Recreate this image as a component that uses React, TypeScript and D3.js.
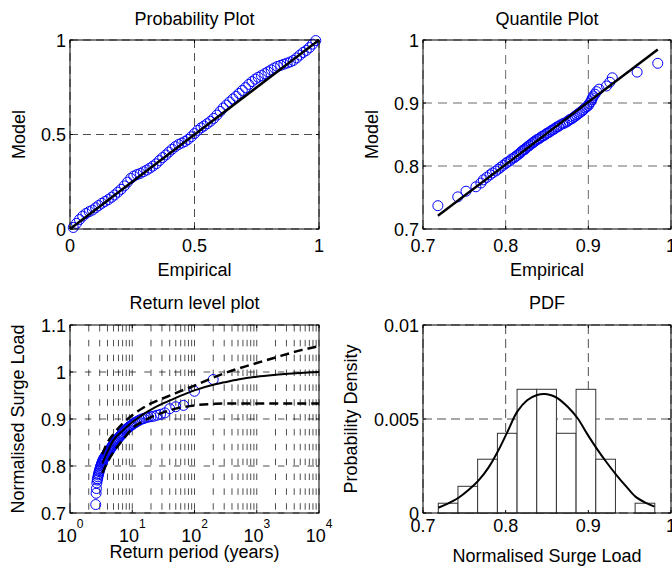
import React from 'react';
import * as d3 from 'd3';

// probability plot: empirical vs model non-exceedance probability
const probEmpirical = [
  0.013, 0.026, 0.038, 0.051, 0.064, 0.077, 0.090, 0.103, 0.115, 0.128,
  0.141, 0.154, 0.167, 0.179, 0.192, 0.205, 0.218, 0.231, 0.244, 0.256,
  0.269, 0.282, 0.295, 0.308, 0.321, 0.333, 0.346, 0.359, 0.372, 0.385,
  0.397, 0.410, 0.423, 0.436, 0.449, 0.462, 0.474, 0.487, 0.500, 0.513,
  0.526, 0.538, 0.551, 0.564, 0.577, 0.590, 0.603, 0.615, 0.628, 0.641,
  0.654, 0.667, 0.679, 0.692, 0.705, 0.718, 0.731, 0.744, 0.756, 0.769,
  0.782, 0.795, 0.808, 0.821, 0.833, 0.846, 0.859, 0.872, 0.885, 0.897,
  0.910, 0.923, 0.936, 0.949, 0.962, 0.974, 0.987,
];
const probModel = [
  0.008, 0.030, 0.050, 0.068, 0.082, 0.092, 0.100, 0.112, 0.124, 0.136,
  0.146, 0.156, 0.168, 0.180, 0.195, 0.210, 0.228, 0.248, 0.268, 0.280,
  0.288, 0.294, 0.303, 0.312, 0.322, 0.333, 0.345, 0.362, 0.378, 0.392,
  0.407, 0.422, 0.436, 0.447, 0.455, 0.463, 0.474, 0.488, 0.505, 0.522,
  0.535, 0.545, 0.557, 0.570, 0.585, 0.603, 0.622, 0.640, 0.656, 0.672,
  0.688, 0.702, 0.717, 0.733, 0.748, 0.765, 0.780, 0.793, 0.803, 0.812,
  0.822, 0.832, 0.842, 0.852, 0.860, 0.866, 0.872, 0.878, 0.884, 0.892,
  0.905, 0.920, 0.934, 0.945, 0.960, 0.978, 0.997,
];
const probLine = [0, 1];

// sorted normalised surge loads (empirical) and fitted model quantiles
const surgeLoad = [
  0.718, 0.742, 0.752, 0.764, 0.770, 0.773, 0.777, 0.781, 0.784, 0.788,
  0.791, 0.794, 0.797, 0.800, 0.802, 0.805, 0.807, 0.810, 0.812, 0.814,
  0.816, 0.818, 0.819, 0.821, 0.823, 0.824, 0.826, 0.828, 0.829, 0.831,
  0.833, 0.834, 0.836, 0.838, 0.840, 0.842, 0.844, 0.846, 0.848, 0.850,
  0.852, 0.854, 0.856, 0.858, 0.860, 0.862, 0.864, 0.866, 0.869, 0.871,
  0.874, 0.876, 0.878, 0.880, 0.882, 0.884, 0.886, 0.888, 0.890, 0.892,
  0.894, 0.896, 0.898, 0.900, 0.901, 0.903, 0.904, 0.905, 0.906, 0.908,
  0.910, 0.913, 0.922, 0.926, 0.929, 0.959, 0.984,
];
const quantileModel = [
  0.737, 0.751, 0.760, 0.767, 0.773, 0.778, 0.782, 0.786, 0.789, 0.792,
  0.795, 0.798, 0.801, 0.804, 0.806, 0.808, 0.811, 0.813, 0.815, 0.817,
  0.819, 0.821, 0.823, 0.825, 0.826, 0.828, 0.830, 0.832, 0.833, 0.835,
  0.837, 0.838, 0.840, 0.842, 0.843, 0.845, 0.847, 0.848, 0.850, 0.852,
  0.853, 0.855, 0.857, 0.858, 0.860, 0.862, 0.863, 0.865, 0.867, 0.868,
  0.870, 0.872, 0.874, 0.875, 0.877, 0.879, 0.881, 0.883, 0.885, 0.887,
  0.889, 0.892, 0.894, 0.896, 0.899, 0.902, 0.905, 0.908, 0.911, 0.914,
  0.918, 0.922, 0.927, 0.933, 0.940, 0.949, 0.963,
];
const qqLineEmp = [0.718, 0.984];
const qqLineModel = [0.721, 0.985];

// return level plot
const returnPeriod = [
  2.59, 2.63, 2.66, 2.70, 2.74, 2.77, 2.81, 2.85, 2.89, 2.94,
  2.98, 3.03, 3.07, 3.12, 3.17, 3.22, 3.27, 3.33, 3.38, 3.44,
  3.50, 3.57, 3.63, 3.70, 3.77, 3.84, 3.92, 3.99, 4.08, 4.16,
  4.25, 4.34, 4.44, 4.54, 4.64, 4.75, 4.87, 4.99, 5.12, 5.26,
  5.40, 5.55, 5.71, 5.87, 6.05, 6.24, 6.44, 6.66, 6.89, 7.13,
  7.40, 7.68, 7.99, 8.32, 8.68, 9.08, 9.51, 9.99, 10.5, 11.1,
  11.7, 12.5, 13.3, 14.3, 15.4, 16.6, 18.2, 20.0, 22.2, 25.0,
  28.5, 33.3, 39.9, 49.9, 66.6, 99.9, 199.7,
];
const rlPeriod = [3.3, 4, 5, 7, 10, 15, 20, 30, 50, 70, 100, 200, 300, 500, 1000, 2000, 5000, 10000];
const rlLevel = [0.805, 0.830, 0.855, 0.875, 0.893, 0.910, 0.920, 0.932, 0.945, 0.953, 0.961, 0.973, 0.978, 0.984, 0.990, 0.994, 0.998, 1.000];
const rlUpper = [0.825, 0.850, 0.868, 0.890, 0.908, 0.924, 0.933, 0.943, 0.955, 0.963, 0.971, 0.988, 0.997, 1.007, 1.019, 1.031, 1.046, 1.055];
const rlLower = [0.785, 0.808, 0.830, 0.855, 0.880, 0.895, 0.904, 0.913, 0.922, 0.926, 0.929, 0.932, 0.933, 0.933, 0.933, 0.933, 0.933, 0.933];

// PDF panel
const histEdges = [0.7185, 0.7423, 0.7661, 0.7900, 0.8138, 0.8376, 0.8614, 0.8852, 0.9090, 0.9328, 0.9566, 0.9804];
const histDensity = [0.00052, 0.00142, 0.00286, 0.00424, 0.00658, 0.00658, 0.00424, 0.00658, 0.00286, 0, 0.00052];
const pdfX = [0.7185, 0.730, 0.743, 0.755, 0.767, 0.779, 0.790, 0.802, 0.814, 0.826, 0.838, 0.848, 0.856, 0.863, 0.875, 0.887, 0.898, 0.910, 0.922, 0.934, 0.946, 0.957, 0.969, 0.980];
const pdfY = [0.00028, 0.00050, 0.00081, 0.00122, 0.00172, 0.00240, 0.00323, 0.00430, 0.00539, 0.00600, 0.00628, 0.00633, 0.00625, 0.00610, 0.00565, 0.00504, 0.00425, 0.00344, 0.00270, 0.00202, 0.00140, 0.00087, 0.00055, 0.00034];

// ticks
const probTicks = [0, 0.5, 1];
const loadTicks = [0.7, 0.8, 0.9, 1];
const levelTicks = [0.7, 0.8, 0.9, 1, 1.1];
const periodTicks = [1, 10, 100, 1000, 10000];
const densityTicks = [0, 0.005, 0.01];

const font = "'Liberation Sans', Arial, Helvetica, sans-serif";
const blue = '#0000ff';

function Axes(props: any) {
  const {x, y, xTicks, yTicks, xGrid, yGrid, dash, gridColor, xTickLabel, xTickY,
    title, titleY, xLabel, xLabelY, yLabel, yLabelX, children} = props;
  const [left, right] = x.range();
  const [bottom, top] = y.range();
  const tl = 3;
  return (
    <g>
      <rect x={left} y={top} width={right - left} height={bottom - top} fill="#fff" />
      {xGrid.map((v: number, i: number) => (
        <line key={'gx' + i} x1={x(v)} x2={x(v)} y1={top} y2={bottom}
          stroke={gridColor} strokeWidth={0.8} strokeDasharray={dash} />
      ))}
      {yGrid.map((v: number, i: number) => (
        <line key={'gy' + i} x1={left} x2={right} y1={y(v)} y2={y(v)}
          stroke={gridColor} strokeWidth={0.8} strokeDasharray={dash} />
      ))}
      {children}
      <rect x={left} y={top} width={right - left} height={bottom - top} fill="none" stroke="#000" strokeWidth={1} />
      {xTicks.map((v: number, i: number) => (
        <g key={'tx' + i}>
          <line x1={x(v)} x2={x(v)} y1={bottom} y2={bottom - tl} stroke="#000" />
          <line x1={x(v)} x2={x(v)} y1={top} y2={top + tl} stroke="#000" />
          <text x={x(v)} y={bottom + xTickY} textAnchor="middle">{xTickLabel(v)}</text>
        </g>
      ))}
      {yTicks.map((v: number, i: number) => (
        <g key={'ty' + i}>
          <line x1={left} x2={left + tl} y1={y(v)} y2={y(v)} stroke="#000" />
          <line x1={right} x2={right - tl} y1={y(v)} y2={y(v)} stroke="#000" />
          <text x={left - 4} y={y(v) + 6.5} textAnchor="end">{String(v)}</text>
        </g>
      ))}
      <text x={(left + right) / 2} y={titleY} textAnchor="middle">{title}</text>
      <text x={(left + right) / 2} y={xLabelY} textAnchor="middle">{xLabel}</text>
      <text transform={`translate(${yLabelX},${(top + bottom) / 2}) rotate(-90)`} textAnchor="middle">{yLabel}</text>
    </g>
  );
}

function Circles({xs, ys, x, y}: any) {
  return (
    <g>
      {xs.map((v: number, i: number) => (
        <circle key={i} cx={x(v)} cy={y(ys[i])} r={5} fill="none" stroke={blue} strokeWidth={1} />
      ))}
    </g>
  );
}

export default function App() {
  // Probability plot
  const x1 = d3.scaleLinear().domain([0, 1]).range([70, 319]);
  const y1 = d3.scaleLinear().domain([0, 1]).range([229, 40]);
  const diag = d3.line<number>().x(v => x1(v)).y(v => y1(v))(probLine) || '';

  // Quantile plot
  const x2 = d3.scaleLinear().domain([0.7, 1]).range([423, 671]);
  const y2 = d3.scaleLinear().domain([0.7, 1]).range([229, 40]);
  const qqLine = d3.line<number>().x(v => x2(v)).y((_, i) => y2(qqLineModel[i]))(qqLineEmp) || '';

  // Return level plot
  const x3 = d3.scaleLog().domain([1, 10000]).range([70, 319]);
  const y3 = d3.scaleLinear().domain([0.7, 1.1]).range([513, 325]);
  const rlLine = (vals: number[]) =>
    d3.line<number>().x((_, i) => x3(rlPeriod[i])).y(v => y3(v)).curve(d3.curveMonotoneX)(vals) || '';
  const logGrid = x3.ticks();

  // PDF
  const x4 = d3.scaleLinear().domain([0.7, 1]).range([423, 671]);
  const y4 = d3.scaleLinear().domain([0, 0.01]).range([513, 325]);
  const pdfPath = d3.line<number>().x(v => x4(v)).y((_, i) => y4(pdfY[i])).curve(d3.curveCatmullRom)(pdfX) || '';

  return (
    <div style={{position: 'fixed', left: 0, top: 0}}>
      <svg width={672} height={571} style={{display: 'block', background: '#fff'}}
        fontFamily={font} fontSize={18} fill="#000">
        <rect width={672} height={571} fill="#fff" />

        <Axes x={x1} y={y1} xTicks={probTicks} yTicks={probTicks} xGrid={probTicks} yGrid={probTicks}
          dash="8,5" gridColor="#222" xTickLabel={(v: number) => String(v)} xTickY={23}
          title="Probability Plot" titleY={25} xLabel="Empirical" xLabelY={276} yLabel="Model" yLabelX={25}>
          <Circles xs={probEmpirical} ys={probModel} x={x1} y={y1} />
          <path d={diag} fill="none" stroke="#000" strokeWidth={2.5} />
        </Axes>

        <Axes x={x2} y={y2} xTicks={loadTicks} yTicks={loadTicks} xGrid={loadTicks} yGrid={loadTicks}
          dash="9,6" gridColor="#444" xTickLabel={(v: number) => String(v)} xTickY={23}
          title="Quantile Plot" titleY={25} xLabel="Empirical" xLabelY={276} yLabel="Model" yLabelX={378}>
          <Circles xs={surgeLoad} ys={quantileModel} x={x2} y={y2} />
          <path d={qqLine} fill="none" stroke="#000" strokeWidth={2.5} />
        </Axes>

        <Axes x={x3} y={y3} xTicks={periodTicks} yTicks={levelTicks} xGrid={logGrid} yGrid={levelTicks}
          dash="6.5,8.35" gridColor="#222"
          xTickLabel={(v: number) => (
            <>10<tspan dy={-13.4} fontSize={12}>{Math.round(Math.log10(v))}</tspan></>
          )}
          xTickY={28.7}
          title="Return level plot" titleY={309} xLabel="Return period (years)" xLabelY={558}
          yLabel="Normalised Surge Load" yLabelX={24}>
          <Circles xs={returnPeriod} ys={surgeLoad} x={x3} y={y3} />
          <path d={rlLine(rlLevel)} fill="none" stroke="#000" strokeWidth={2} />
          <path d={rlLine(rlUpper)} fill="none" stroke="#000" strokeWidth={2.5} strokeDasharray="9,5" />
          <path d={rlLine(rlLower)} fill="none" stroke="#000" strokeWidth={2.5} strokeDasharray="9,5" />
        </Axes>

        <Axes x={x4} y={y4} xTicks={loadTicks} yTicks={densityTicks} xGrid={loadTicks} yGrid={densityTicks}
          dash="9,5" gridColor="#222" xTickLabel={(v: number) => String(v)} xTickY={19}
          title="PDF" titleY={309} xLabel="Normalised Surge Load" xLabelY={562}
          yLabel="Probability Density" yLabelX={357}>
          {histDensity.map((h, i) => (
            h > 0 ? (
              <rect key={i} x={x4(histEdges[i])} y={y4(h)}
                width={x4(histEdges[i + 1]) - x4(histEdges[i])} height={y4(0) - y4(h)}
                fill="#fff" stroke="#333" strokeWidth={1} />
            ) : null
          ))}
          <path d={pdfPath} fill="none" stroke="#000" strokeWidth={2} />
        </Axes>
      </svg>
    </div>
  );
}
